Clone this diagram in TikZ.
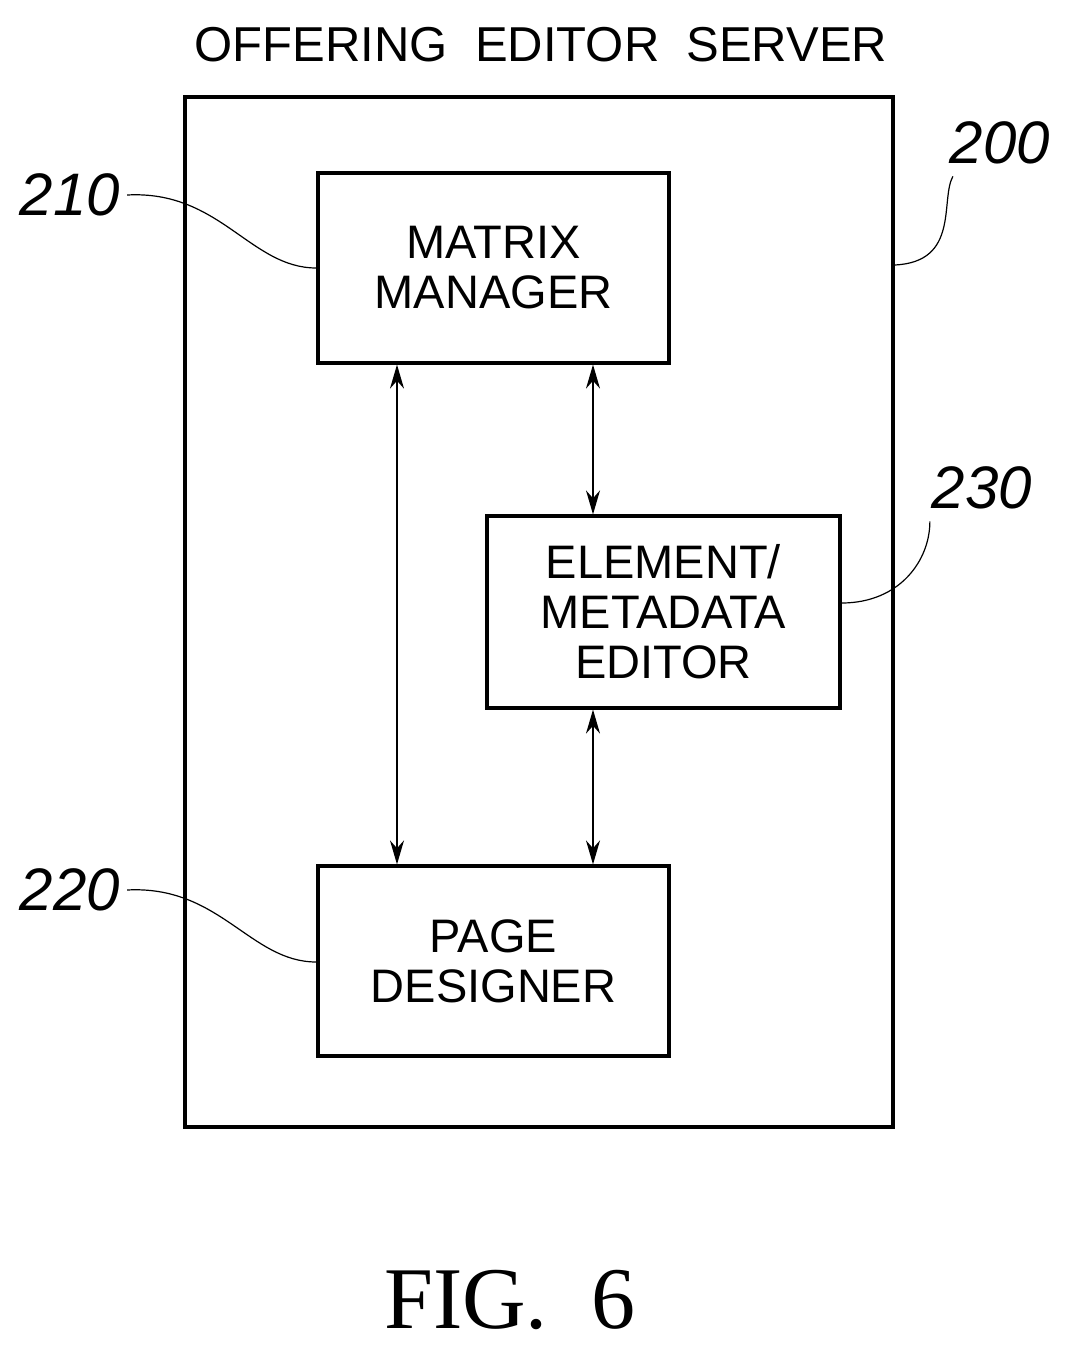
\documentclass[tikz,border=0pt]{standalone}
\usepackage{fontspec}
\setmainfont{Liberation Sans}
\newfontfamily\figfont{Liberation Serif}
\usetikzlibrary{arrows.meta}
\begin{document}
\begin{tikzpicture}[x=0.5pt,y=-0.5pt,
  box/.style={draw,line width=1.6pt,align=center,font=\fontsize{23.5}{25}\selectfont,inner sep=0pt},
  conn/.style={line width=0.8pt,{Stealth[length=12pt,width=7pt]}-{Stealth[length=12pt,width=7pt]}},
  lead/.style={line width=0.6pt},
  num/.style={font=\itshape\fontsize{30}{32}\selectfont}]
\useasboundingbox (0,0) rectangle (1072,1367);
\node[font=\fontsize{24.5}{26}\selectfont] (title) at (541,45) {OFFERING\ \ EDITOR\ \ SERVER};
\node[draw,line width=1.6pt,minimum width=354pt,minimum height=515pt,inner sep=0pt] (outer) at (539,612) {};
\node[box,minimum width=175.5pt,minimum height=95pt] (mm) at (493.5,268) {MATRIX\\MANAGER};
\node[box,minimum width=176.5pt,minimum height=96pt] (ed) at (663.5,612) {ELEMENT/\\METADATA\\EDITOR};
\node[box,minimum width=175.5pt,minimum height=95pt] (pd) at (493.5,961) {PAGE\\DESIGNER};
\draw[conn] (mm.south -| 397,0) -- (pd.north -| 397,0);
\draw[conn] (mm.south -| 593,0) -- (ed.north -| 593,0);
\draw[conn] (ed.south -| 593,0) -- (pd.north -| 593,0);
\node[num] (n200) at (1000,143) {200};
\node[num] (n210) at (70,195) {210};
\node[num] (n230) at (982,488) {230};
\node[num] (n220) at (70,890) {220};
\draw[lead] (n200.south west)++(10,5) .. controls (940,200) and (960,262) .. (outer.east |- 0,265);
\draw[lead] (n210.east) .. controls (220,190) and (250,268) .. (mm.west |- 0,268);
\draw[lead] (n230.south west)++(5,5) .. controls (930,560) and (900,603) .. (ed.east |- 0,603);
\draw[lead] (n220.east) .. controls (220,885) and (250,962) .. (pd.west |- 0,962);
\node[font=\figfont\fontsize{44}{46}\selectfont] (fig) at (510,1300) {FIG.\ \ 6};
\end{tikzpicture}
\end{document}
